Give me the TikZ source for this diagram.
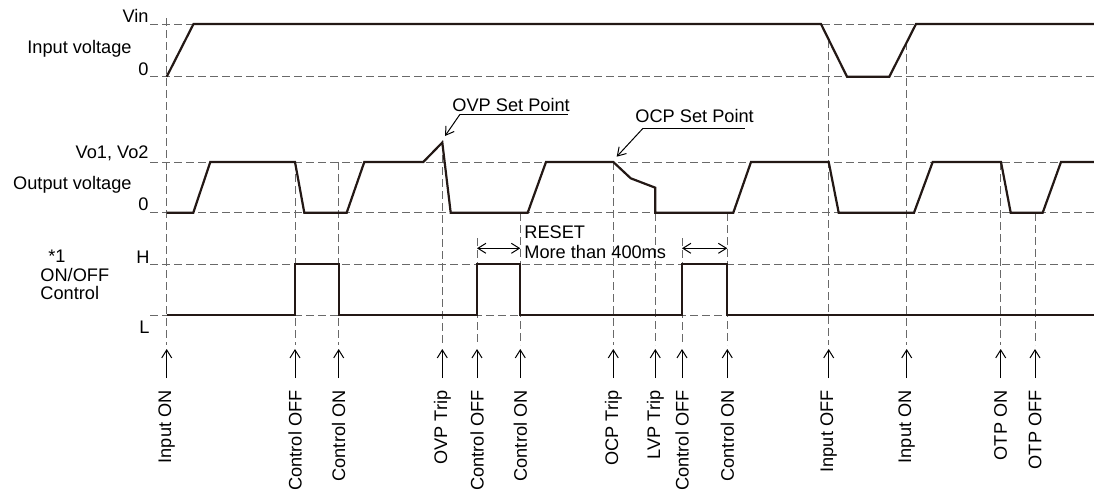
\documentclass[tikz,border=0pt]{standalone}
\usepackage{fontspec}
\setmainfont{Liberation Sans}
\usetikzlibrary{arrows.meta}
\definecolor{dashgray}{RGB}{105,105,105}
\definecolor{wavecol}{RGB}{35,24,21}
\begin{document}
\begin{tikzpicture}[x=0.5pt, y=-0.5pt,
  font=\fontsize{9.1}{10}\selectfont,
  grid/.style={draw=dashgray, line width=0.5pt, dash pattern=on 4pt off 2pt},
  wave/.style={draw=wavecol, line width=1.1pt, line join=miter},
  tick/.style={draw=black, line width=0.5pt, -{Straight Barb[length=4pt, width=5pt]}},
  span/.style={draw=black, line width=0.5pt, {Straight Barb[length=4pt, width=5pt]}-{Straight Barb[length=4pt, width=5pt]}},
  lvl/.style={anchor=base east, inner sep=0pt},
  txt/.style={anchor=base west, inner sep=0pt},
  evt/.style={rotate=90, anchor=east, inner sep=0pt}]
\useasboundingbox (0, 0) rectangle (1094, 493);

% levels
\draw[grid] (150, 24) -- (1094, 24);
\draw[grid] (150, 76.7) -- (1094, 76.7);
\draw[grid] (150, 162) -- (1094, 162);
\draw[grid] (150, 212.7) -- (1094, 212.7);
\draw[grid] (150, 264) -- (1094, 264);
\draw[grid] (150, 315) -- (1094, 315);

% events
\draw[grid] (166.7, 18) -- (166.7, 345);
\draw[grid] (295, 162) -- (295, 345);
\draw[grid] (338.7, 162) -- (338.7, 345);
\draw[grid] (442.3, 143) -- (442.3, 345);
\draw[grid] (477, 238) -- (477, 345);
\draw[grid] (520.3, 213) -- (520.3, 345);
\draw[grid] (613.3, 162) -- (613.3, 345);
\draw[grid] (655.3, 213) -- (655.3, 345);
\draw[grid] (682, 238) -- (682, 345);
\draw[grid] (727.3, 213) -- (727.3, 345);
\draw[grid] (828.7, 40) -- (828.7, 345);
\draw[grid] (906.7, 42) -- (906.7, 345);
\draw[grid] (1000.7, 162) -- (1000.7, 345);
\draw[grid] (1035, 213) -- (1035, 345);

% input voltage
\draw[wave] (166.7, 76.7) -- (193.5, 24) -- (821, 24) -- (847, 76.7)
  -- (889.3, 76.7) -- (916, 24) -- (1094, 24);

% output voltage
\draw[wave] (166.7, 212.7) -- (193.3, 212.7) -- (210.3, 162) -- (295, 162)
  -- (304.3, 212.7) -- (346.7, 212.7) -- (364.3, 162) -- (423.3, 162)
  -- (442.3, 142.5) -- (450.7, 212.7) -- (527.7, 212.7) -- (546, 162)
  -- (613.3, 162) -- (630.7, 178.3) -- (655.3, 187.7) -- (655.3, 212.7)
  -- (733.3, 212.7) -- (751, 162) -- (828.7, 162) -- (838.7, 212.7)
  -- (914, 212.7) -- (932.7, 162) -- (1001, 162) -- (1010.7, 212.7)
  -- (1042.7, 212.7) -- (1061, 162) -- (1094, 162);

% on/off control
\draw[wave] (166.7, 315) -- (295, 315) -- (295, 264) -- (338.7, 264)
  -- (338.7, 315) -- (477, 315) -- (477, 264) -- (520.3, 264)
  -- (520.3, 315) -- (682, 315) -- (682, 264) -- (727.3, 264)
  -- (727.3, 315) -- (1094, 315);

% axis labels
\node[lvl] (vin) at (149, 22) {Vin};
\node[lvl] (izero) at (149, 75) {0};
\node[lvl] (ilabel) at (132, 53) {Input voltage};
\node[lvl] (vout) at (149, 158) {Vo1, Vo2};
\node[lvl] (ozero) at (149, 210) {0};
\node[lvl] (olabel) at (132, 189) {Output voltage};
\node[lvl] (hi) at (150, 263) {H};
\node[lvl] (lo) at (150, 333) {L};
\node[txt] (note) at (48, 262) {*1};
\node[txt, align=left, font=\fontsize{9.1}{8.6}\selectfont] (ctl) at (40, 299) {ON/OFF\\Control};

% set points
\node[txt] (ovp) at (452, 111) {OVP Set Point};
\coordinate (ovpk) at (460, 114.3);
\coordinate (ovpt) at (445, 136);
\draw[line width=0.5pt] (ovpk) -- (568, 114.3);
\draw[tick] (ovpk) -- (ovpt);
\node[txt] (ocp) at (635, 122) {OCP Set Point};
\coordinate (ocpk) at (643, 128.3);
\coordinate (ocpt) at (616.7, 156.7);
\draw[line width=0.5pt] (ocpk) -- (745, 128.3);
\draw[tick] (ocpk) -- (ocpt);

% reset
\node[txt] (reset) at (524, 238) {RESET};
\node[txt] (more) at (524, 258) {More than 400ms};
\coordinate (ra) at (477, 248.3);
\coordinate (rb) at (520.3, 248.3);
\coordinate (rc) at (682, 248.3);
\coordinate (rd) at (727.3, 248.3);
\draw[span] (ra) -- (rb);
\draw[span] (rc) -- (rd);

% event labels
\node[evt] (l1) at (166.7, 390) {Input ON};
\node[evt] (l2) at (295, 390) {Control OFF};
\node[evt] (l3) at (338.7, 390) {Control ON};
\node[evt] (l4) at (442.3, 390) {OVP Trip};
\node[evt] (l5) at (477, 390) {Control OFF};
\node[evt] (l6) at (520.3, 390) {Control ON};
\node[evt] (l7) at (613.3, 390) {OCP Trip};
\node[evt] (l8) at (655.3, 390) {LVP Trip};
\node[evt] (l9) at (682, 390) {Control OFF};
\node[evt] (l10) at (727.3, 390) {Control ON};
\node[evt] (l11) at (828.7, 390) {Input OFF};
\node[evt] (l12) at (906.7, 390) {Input ON};
\node[evt] (l13) at (1000.7, 390) {OTP ON};
\node[evt] (l14) at (1035, 390) {OTP OFF};

\coordinate (e1) at (166.7, 349);
\coordinate (e2) at (295, 349);
\coordinate (e3) at (338.7, 349);
\coordinate (e4) at (442.3, 349);
\coordinate (e5) at (477, 349);
\coordinate (e6) at (520.3, 349);
\coordinate (e7) at (613.3, 349);
\coordinate (e8) at (655.3, 349);
\coordinate (e9) at (682, 349);
\coordinate (e10) at (727.3, 349);
\coordinate (e11) at (828.7, 349);
\coordinate (e12) at (906.7, 349);
\coordinate (e13) at (1000.7, 349);
\coordinate (e14) at (1035, 349);

\draw[tick] ([yshift=6pt]l1.east) -- (e1);
\draw[tick] ([yshift=6pt]l2.east) -- (e2);
\draw[tick] ([yshift=6pt]l3.east) -- (e3);
\draw[tick] ([yshift=6pt]l4.east) -- (e4);
\draw[tick] ([yshift=6pt]l5.east) -- (e5);
\draw[tick] ([yshift=6pt]l6.east) -- (e6);
\draw[tick] ([yshift=6pt]l7.east) -- (e7);
\draw[tick] ([yshift=6pt]l8.east) -- (e8);
\draw[tick] ([yshift=6pt]l9.east) -- (e9);
\draw[tick] ([yshift=6pt]l10.east) -- (e10);
\draw[tick] ([yshift=6pt]l11.east) -- (e11);
\draw[tick] ([yshift=6pt]l12.east) -- (e12);
\draw[tick] ([yshift=6pt]l13.east) -- (e13);
\draw[tick] ([yshift=6pt]l14.east) -- (e14);

\end{tikzpicture}
\end{document}
